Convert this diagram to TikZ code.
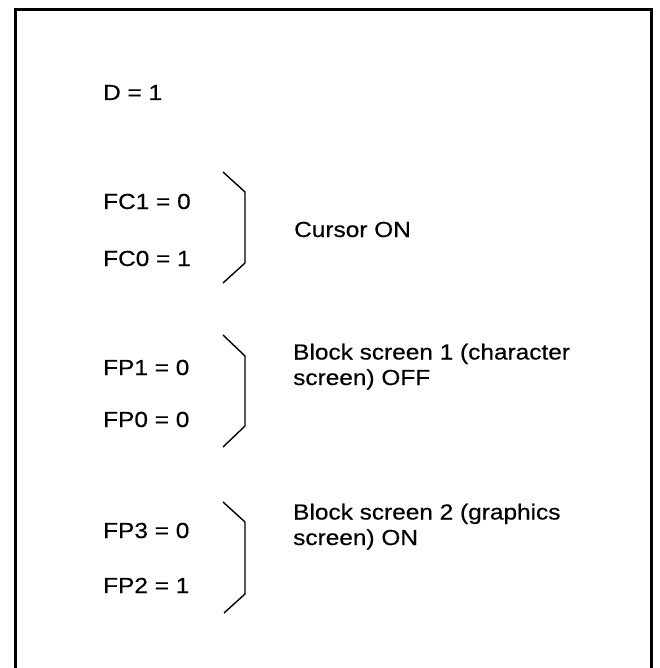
\documentclass[tikz,border=0pt]{standalone}
\usepackage{fontspec}
\setmainfont[FakeStretch=1.12,FakeBold=0.4]{Liberation Sans}
\begin{document}
\begin{tikzpicture}[x=1pt,y=-1pt,
  lbl/.style={anchor=base west,inner sep=0pt,font=\fontsize{21.8}{25.5}\selectfont},
  desc/.style={anchor=base west,inner sep=0pt,font=\fontsize{21.8}{25.5}\selectfont,align=left},
  brk/.style={line width=1.4pt,line join=miter},
  frame/.style={line width=3pt}]
\useasboundingbox (0,0) rectangle (659,668);
% frame (bottom edge lies beyond the picture)
\coordinate (bl) at (15.5,672);
\coordinate (tl) at (15.5,9.5);
\coordinate (tr) at (651.5,9.5);
\coordinate (br) at (651.5,672);
\draw[frame] (bl) -- (tl) -- (tr) -- (br);

\node[lbl] (d) at (103,100) {D = 1};

\node[lbl] (fc1) at (103,209) {FC1 = 0};
\node[lbl] (fc0) at (103,266) {FC0 = 1};
\coordinate (b1a) at (223,172);
\coordinate (b1b) at (245,192);
\coordinate (b1c) at (245,263);
\coordinate (b1d) at (223,283);
\draw[brk] (b1a) -- (b1b) -- (b1c) -- (b1d);
\node[desc] (cur) at (294,237) {Cursor ON};

\node[lbl] (fp1) at (103,375) {FP1 = 0};
\node[lbl] (fp0) at (103,427) {FP0 = 0};
\coordinate (b2a) at (223,335);
\coordinate (b2b) at (245,356);
\coordinate (b2c) at (245,426);
\coordinate (b2d) at (223,447);
\draw[brk] (b2a) -- (b2b) -- (b2c) -- (b2d);
\node[desc] (bs1) at (293,385) {Block screen 1 (character\\screen) OFF};

\node[lbl] (fp3) at (103,538) {FP3 = 0};
\node[lbl] (fp2) at (103,593) {FP2 = 1};
\coordinate (b3a) at (223,502);
\coordinate (b3b) at (245,522);
\coordinate (b3c) at (245,594);
\coordinate (b3d) at (224,613);
\draw[brk] (b3a) -- (b3b) -- (b3c) -- (b3d);
\node[desc] (bs2) at (293,545) {Block screen 2 (graphics\\screen) ON};
\end{tikzpicture}
\end{document}
